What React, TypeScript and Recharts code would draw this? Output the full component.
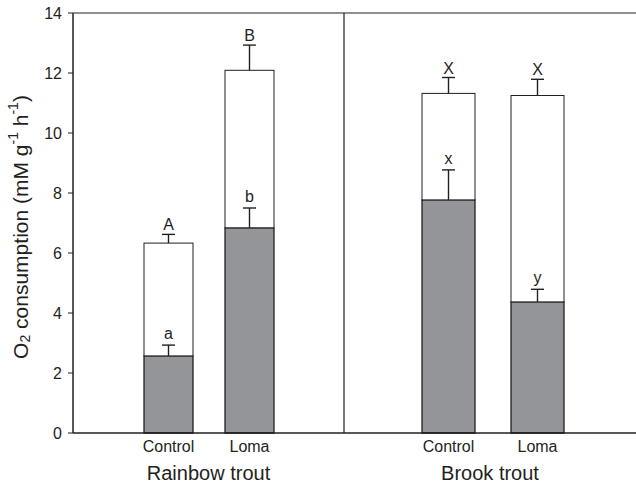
import React from 'react';
import {
  ComposedChart, Bar, Line, XAxis, YAxis, LabelList, ReferenceLine, Label,
} from 'recharts';

// values (mM g-1 h-1)
const groups = ['Rainbow trout', 'Brook trout'];
const treatments = ['Control', 'Loma'];

const rainbowTotal = [6.33, 12.09];
const rainbowTotalErr = [0.29, 0.84];
const rainbowBasal = [2.57, 6.84];
const rainbowBasalErr = [0.36, 0.66];
const rainbowTotalLetters = ['A', 'B'];
const rainbowBasalLetters = ['a', 'b'];

const brookTotal = [11.32, 11.25];
const brookTotalErr = [0.53, 0.54];
const brookBasal = [7.77, 4.37];
const brookBasalErr = [1.0, 0.42];
const brookTotalLetters = ['X', 'X'];
const brookBasalLetters = ['x', 'y'];

const yTicks = [0, 2, 4, 6, 8, 10, 12, 14];

const FONT = '"Liberation Sans", Arial, Helvetica, sans-serif';
const INK = '#231f20';
const GREY = '#939598';

const buildRows = (
  total: number[], totalErr: number[], basal: number[], basalErr: number[],
  totalLetters: string[], basalLetters: string[],
) =>
  treatments.map((name, i) => ({
    name,
    basal: basal[i],
    rest: total[i] - basal[i],
    basalErr: basalErr[i],
    totalErr: totalErr[i],
    basalMark: basal[i] + basalErr[i],
    totalMark: total[i] + totalErr[i],
    basalLetter: basalLetters[i],
    totalLetter: totalLetters[i],
  }));

const rainbowRows = buildRows(rainbowTotal, rainbowTotalErr, rainbowBasal, rainbowBasalErr, rainbowTotalLetters, rainbowBasalLetters);
const brookRows = buildRows(brookTotal, brookTotalErr, brookBasal, brookBasalErr, brookTotalLetters, brookBasalLetters);

// the upper (white) segment also draws both whiskers, so the grey bar's
// whisker stays visible on top of the white fill
const WhiteSegment = (props: any) => {
  const { x, y, width, height, payload } = props;
  if (!height) return null;
  const perUnit = height / payload.rest;
  const cx = x + width / 2;
  const half = 6.5;
  const whisker = (base: number, err: number) => {
    const top = base - err * perUnit;
    return (
      <g stroke={INK} strokeWidth={1.4}>
        <line x1={cx} y1={base} x2={cx} y2={top} />
        <line x1={cx - half} y1={top} x2={cx + half} y2={top} />
      </g>
    );
  };
  return (
    <g>
      <rect x={x} y={y} width={width} height={height} fill="#ffffff" stroke={INK} strokeWidth={1} />
      {whisker(y + height, payload.basalErr)}
      {whisker(y, payload.totalErr)}
    </g>
  );
};

const YLabel = (props: any) => {
  const { viewBox } = props;
  const cx = 20;
  const cy = viewBox.y + viewBox.height / 2 + 4;
  return (
    <text
      x={cx}
      y={cy}
      transform={`rotate(-90, ${cx}, ${cy})`}
      textAnchor="middle"
      dominantBaseline="central"
      fontSize={21}
      fontFamily={FONT}
      fill={INK}
    >
      O<tspan dy={5} fontSize={14}>2</tspan>
      <tspan dy={-5}> consumption (mM g</tspan>
      <tspan dy={-7} fontSize={14}>-1</tspan>
      <tspan dy={7}> h</tspan>
      <tspan dy={-7} fontSize={14}>-1</tspan>
      <tspan dy={7}>)</tspan>
    </text>
  );
};

const letterStyle = { fill: INK, fontSize: 16, fontFamily: FONT };

const Panel = ({
  rows, group, width, showY, barSize, padding,
}: {
  rows: any[]; group: string; width: number; showY: boolean; barSize: number;
  padding: { left: number; right: number };
}) => (
  <ComposedChart
    width={width}
    height={485}
    data={rows}
    margin={{ top: 13, right: 0, left: 0, bottom: 3 }}
    barGap={0}
  >
    <XAxis
      dataKey="name"
      padding={padding}
      tickLine={false}
      axisLine={{ stroke: INK, strokeWidth: 1.5 }}
      tick={{ fill: INK, fontSize: 16, fontFamily: FONT }}
      height={49}
      interval={0}
    >
      <Label
        value={group}
        position="insideBottom"
        offset={2}
        style={{ fill: INK, fontSize: 20, fontFamily: FONT }}
      />
    </XAxis>
    {showY ? (
      <YAxis
        width={73}
        domain={[0, 14]}
        ticks={yTicks}
        interval={0}
        tickSize={5}
        tickMargin={6}
        tickLine={{ stroke: INK }}
        axisLine={{ stroke: INK, strokeWidth: 1.5 }}
        tick={{ fill: INK, fontSize: 16, fontFamily: FONT }}
      >
        <Label content={<YLabel />} />
      </YAxis>
    ) : (
      <YAxis
        width={1}
        domain={[0, 14]}
        ticks={yTicks}
        tick={false}
        tickLine={false}
        axisLine={{ stroke: INK, strokeWidth: 1.2 }}
      />
    )}
    <ReferenceLine y={14} stroke={INK} strokeWidth={1} />
    <Bar dataKey="basal" stackId="s" fill={GREY} stroke={INK} strokeWidth={1.3} barSize={barSize} isAnimationActive={false} />
    <Bar dataKey="rest" stackId="s" shape={WhiteSegment} barSize={barSize} isAnimationActive={false} />
    <Line dataKey="basalMark" stroke="none" dot={false} activeDot={false} isAnimationActive={false}>
      <LabelList dataKey="basalLetter" position="top" offset={6} style={letterStyle} />
    </Line>
    <Line dataKey="totalMark" stroke="none" dot={false} activeDot={false} isAnimationActive={false}>
      <LabelList dataKey="totalLetter" position="top" offset={4} style={letterStyle} />
    </Line>
  </ComposedChart>
);

export default function App() {
  return (
    <div style={{ position: 'absolute', left: 0, top: 0, width: 636, height: 485, background: '#fff' }}>
      <div style={{ position: 'absolute', left: 0, top: 0 }}>
        <Panel rows={rainbowRows} group={groups[0]} width={344} showY barSize={49} padding={{ left: 55, right: 54 }} />
      </div>
      <div style={{ position: 'absolute', left: 343, top: 0 }}>
        <Panel rows={brookRows} group={groups[1]} width={293} showY={false} barSize={53} padding={{ left: 60, right: 54 }} />
      </div>
    </div>
  );
}
